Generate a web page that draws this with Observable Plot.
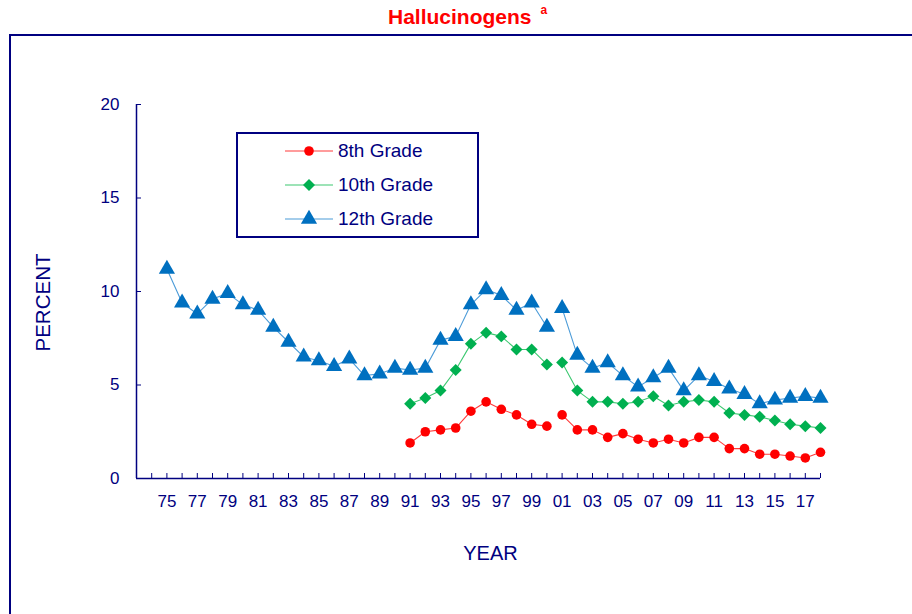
<!DOCTYPE html>
<html>
<head>
<meta charset="utf-8">
<script src="https://cdn.jsdelivr.net/npm/d3@7"></script>
<script src="https://cdn.jsdelivr.net/npm/@observablehq/plot@0.6"></script>
<style>
  html, body { margin: 0; padding: 0; background: #fff; }
  #page { position: relative; width: 912px; height: 614px; overflow: hidden; font-family: "Liberation Sans", Arial, sans-serif; }
  #title { position: absolute; left: 388px; top: 5px; color: #FF0000; font-weight: bold; font-size: 21px; white-space: nowrap; }
  #title sup { font-size: 12px; position: relative; top: -2px; margin-left: 9px; }
  #frame { position: absolute; left: 9px; top: 34px; width: 1000px; height: 700px; border: 2px solid #000080; }
  #chart { position: absolute; left: 0; top: 35px; }
  #legend { position: absolute; left: 236px; top: 132px; width: 239px; height: 102px; border: 2px solid #000080; background: #fff; }
  .row { position: absolute; left: 47px; height: 24px; display: flex; align-items: center; color: #000080; font-size: 19px; white-space: nowrap; }
  .row svg { margin-right: 5px; }
</style>
</head>
<body>
<div id="page">
  <div id="frame"></div>
  <div id="title">Hallucinogens<sup>a</sup></div>
  <div id="chart"></div>
  <div id="legend"></div>
</div>
<script>
// ---- data ----
const years12 = [1975,1976,1977,1978,1979,1980,1981,1982,1983,1984,1985,1986,1987,1988,1989,1990,
  1991,1992,1993,1994,1995,1996,1997,1998,1999,2000,2001,2002,2003,2004,2005,2006,2007,2008,2009,
  2010,2011,2012,2013,2014,2015,2016,2017,2018];
const years810 = [1991,1992,1993,1994,1995,1996,1997,1998,1999,2000,2001,2002,2003,2004,2005,2006,
  2007,2008,2009,2010,2011,2012,2013,2014,2015,2016,2017,2018];
const grade12 = [11.2,9.4,8.8,9.6,9.9,9.3,9.0,8.1,7.3,6.5,6.3,6.0,6.4,5.5,5.6,5.9,
  5.8,5.9,7.4,7.6,9.3,10.1,9.8,9.0,9.4,8.1,9.1,6.6,5.9,6.2,5.5,4.9,5.4,5.9,4.7,
  5.5,5.2,4.8,4.5,4.0,4.2,4.3,4.4,4.3];
const grade10 = [4.0,4.3,4.7,5.8,7.2,7.8,7.6,6.9,6.9,6.1,6.2,4.7,4.1,4.1,4.0,4.1,
  4.4,3.9,4.1,4.2,4.1,3.5,3.4,3.3,3.1,2.9,2.8,2.7];
const grade8 = [1.9,2.5,2.6,2.7,3.6,4.1,3.7,3.4,2.9,2.8,3.4,2.6,2.6,2.2,2.4,2.1,
  1.9,2.1,1.9,2.2,2.2,1.6,1.6,1.3,1.3,1.2,1.1,1.4];
const seriesNames = ["8th Grade", "10th Grade", "12th Grade"];
const breakYear = 2001; // question change: lines break between 2000 and 2001
const tickYears = [1974,1975,1976,1977,1978,1979,1980,1981,1982,1983,1984,1985,1986,1987,1988,1989,
  1990,1991,1992,1993,1994,1995,1996,1997,1998,1999,2000,2001,2002,2003,2004,2005,2006,2007,2008,
  2009,2010,2011,2012,2013,2014,2015,2016,2017,2018];
const labelYears = [1975,1977,1979,1981,1983,1985,1987,1989,1991,1993,1995,1997,1999,2001,2003,
  2005,2007,2009,2011,2013,2015,2017];
const yTicks = [0, 5, 10, 15, 20];

// ---- styles ----
const navy = "#000080";
const styles = {
  "8th Grade":  {fill: "#FF0000", line: "#FF3B3B", symbol: "circle",   r: 4.8},
  "10th Grade": {fill: "#00B050", line: "#3CC870", symbol: "diamond2", r: 5.4},
  "12th Grade": {fill: "#0070C0", line: "#4B9BD8", symbol: "triangle", r: 6.0}
};

function build(name, yrs, vals) {
  return yrs.map((year, i) => ({series: name, year, value: vals[i], seg: name + (year >= breakYear ? "b" : "a")}));
}
const data = [
  ...build("8th Grade", years810, grade8),
  ...build("10th Grade", years810, grade10),
  ...build("12th Grade", years12, grade12)
];

const lineMarks = [];
const dotMarks = [];
for (const name of seriesNames) {
  const s = styles[name];
  const d = data.filter(e => e.series === name);
  lineMarks.push(Plot.line(d, {x: "year", y: "value", z: "seg", stroke: s.line, strokeWidth: 1.1}));
  dotMarks.push(Plot.dot(d, {x: "year", y: "value", symbol: () => s.symbol, fill: s.fill, stroke: "none", r: s.r}));
}

const chart = Plot.plot({
  width: 912,
  height: 579,
  marginLeft: 136,
  marginRight: 92,
  marginTop: 69,
  marginBottom: 136,
  style: {fontFamily: "'Liberation Sans', Arial, sans-serif", color: navy, background: "transparent", overflow: "visible"},
  x: {domain: [1973, 2018], label: null},
  y: {domain: [0, 20], label: null},
  symbol: {type: "identity"},
  marks: [
    // tick marks (inward)
    Plot.axisX({ticks: tickYears, tickSize: -5, fill: "none", stroke: navy, strokeWidth: 1}),
    Plot.axisY({ticks: yTicks, tickSize: -5, fill: "none", stroke: navy, strokeWidth: 1}),
    // tick labels
    Plot.axisX({ticks: labelYears, tickSize: 0, tickPadding: 16, fontSize: 17,
      tickFormat: d => String(d).slice(2), fill: navy, label: null}),
    Plot.axisY({ticks: yTicks, tickSize: 0, tickPadding: 17, fontSize: 17, fill: navy, label: null}),
    // axis lines
    Plot.ruleX([1973], {stroke: navy, strokeWidth: 1.5}),
    Plot.ruleY([0], {stroke: navy, strokeWidth: 1.5}),
    // axis titles
    Plot.text(["YEAR"], {frameAnchor: "bottom", dx: 12, dy: 75, fontSize: 20, fill: navy, lineAnchor: "middle"}),
    Plot.text(["PERCENT"], {frameAnchor: "left", dx: -93, dy: 60, rotate: -90, fontSize: 20.5, fill: navy, lineAnchor: "middle"}),
    ...lineMarks,
    ...dotMarks
  ]
});
document.getElementById("chart").appendChild(chart);

// ---- legend ----
const legend = document.getElementById("legend");
const rowTops = [5, 39, 73];
const symbolPaths = {
  circle: d3.symbol(d3.symbolCircle, Math.PI * 4.8 * 4.8)(),
  diamond2: d3.symbol(d3.symbolDiamond2, Math.PI * 5.4 * 5.4)(),
  triangle: d3.symbol(d3.symbolTriangle, Math.PI * 6.0 * 6.0)()
};
seriesNames.forEach((name, i) => {
  const s = styles[name];
  const row = document.createElement("div");
  row.className = "row";
  row.style.top = rowTops[i] + "px";
  row.innerHTML = `<svg width="48" height="24" viewBox="0 0 48 24">
      <line x1="0" y1="12" x2="48" y2="12" stroke="${s.line}" stroke-width="1.1"/>
      <path d="${symbolPaths[s.symbol]}" transform="translate(24,12)" fill="${s.fill}"/>
    </svg><span>${name}</span>`;
  legend.appendChild(row);
});
</script>
</body>
</html>
